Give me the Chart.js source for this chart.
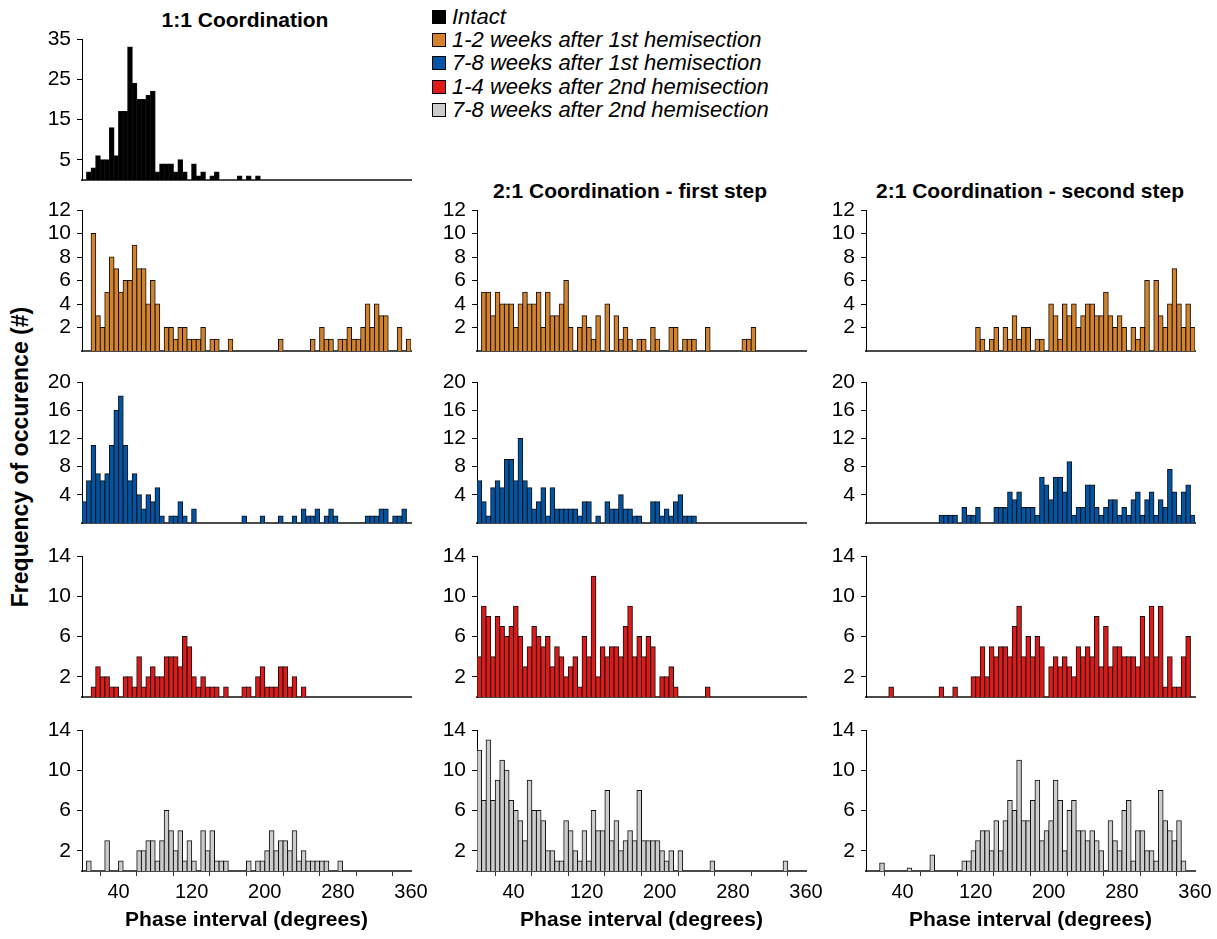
<!DOCTYPE html>
<html><head><meta charset="utf-8">
<script src="https://cdn.jsdelivr.net/npm/chart.js@4.4.1/dist/chart.umd.min.js"></script>
<style>
html,body{margin:0;padding:0;background:#fff;width:1217px;height:939px;overflow:hidden;position:relative;font-family:"Liberation Sans",Arial,sans-serif;color:#000}
canvas{position:absolute}
.t{position:absolute;font-weight:bold;font-size:21px;white-space:nowrap;transform:translate(-50%,-50%)}
#legend{position:absolute;left:432px;top:5px}
.li{display:flex;align-items:center;height:23.3px;font-style:italic;font-size:22px;white-space:nowrap}
.sw{width:14px;height:14px;border:1px solid #000;margin-right:6px;box-sizing:border-box}
#ytitle{position:absolute;left:20px;top:457px;transform:translate(-50%,-50%) rotate(-90deg);font-weight:bold;font-size:23px;white-space:nowrap}
</style></head><body>
<div class="t" style="left:245px;top:20px">1:1 Coordination</div>
<div class="t" style="left:630px;top:191px">2:1 Coordination - first step</div>
<div class="t" style="left:1030px;top:191px">2:1 Coordination - second step</div>
<div id="ytitle">Frequency of occurence (#)</div>
<div id="legend"></div>
<script>
// ---- categories (5-degree bins, centres) ----
const binCenters = [2.5,7.5,12.5,17.5,22.5,27.5,32.5,37.5,42.5,47.5,52.5,57.5,62.5,67.5,72.5,77.5,82.5,87.5,92.5,97.5,
102.5,107.5,112.5,117.5,122.5,127.5,132.5,137.5,142.5,147.5,152.5,157.5,162.5,167.5,172.5,177.5,182.5,187.5,192.5,197.5,
202.5,207.5,212.5,217.5,222.5,227.5,232.5,237.5,242.5,247.5,252.5,257.5,262.5,267.5,272.5,277.5,282.5,287.5,292.5,297.5,
302.5,307.5,312.5,317.5,322.5,327.5,332.5,337.5,342.5,347.5,352.5,357.5];
const xTickValues = [0,40,80,120,160,200,240,280,320,360];
const xLabelValues = [40,120,200,280,360];
const yTicksIntact = [5,15,25,35];
const yTicksRow2 = [2,4,6,8,10,12];
const yTicksRow3 = [4,8,12,16,20];
const yTicksRow45 = [2,6,10,14];

const seriesNames = ['Intact','1-2 weeks after 1st hemisection','7-8 weeks after 1st hemisection','1-4 weeks after 2nd hemisection','7-8 weeks after 2nd hemisection'];
const seriesColors = ['#000000','#D4832C','#0055A4','#DE1A1A','#CCCCCC'];

// ---- 1:1 coordination ----
const intact = [0,2,3,6,5,5,13,6,17,17, 33,24,20,20,21,22,2,4,4,4, 2,5,2,0,4,1,2,0,1,2, 0,0,0,0,1,0,1,0,1,0,
0,0,0,0,0,0,0,0,0,0, 0,0,0,0,0,0,0,0,0,0, 0,0,0,0,0,0,0,0,0,0, 0,0];
const orange11 = [0,0,10,3,2,5,8,7,5,6, 6,9,7,7,4,6,4,0,2,2, 1,2,2,1,1,1,2,0,1,1, 0,0,1,0,0,0,0,0,0,0,
0,0,0,1,0,0,0,0,0,0, 1,0,2,1,1,0,1,1,2,1, 1,2,4,2,4,3,3,0,0,2, 0,1];
const blue11 = [3,6,11,7,6,7,11,16,18,11, 6,7,4,2,4,3,5,1,0,1, 1,3,1,0,2,0,0,0,0,0, 0,0,0,0,0,1,0,0,0,1,
0,0,0,1,0,0,1,0,2,1, 1,2,0,1,2,1,0,0,0,0, 0,0,1,1,1,2,2,0,1,1, 2,0];
const red11 = [0,0,1,3,2,2,1,1,0,2, 2,1,4,1,2,3,2,2,4,4, 4,3,6,5,2,1,2,1,1,1, 0,1,0,0,0,1,1,0,2,3,
1,1,1,3,3,1,2,0,1,0, 0,0,0,0,0,0,0,0,0,0, 0,0,0,0,0,0,0,0,0,0, 0,0];
const gray11 = [0,1,0,0,0,3,0,0,1,0, 0,0,2,2,3,3,1,3,6,4, 2,4,1,3,1,0,4,2,4,1, 1,1,0,0,0,0,1,0,1,1,
2,4,2,3,3,2,4,1,2,1, 1,1,1,1,0,0,1,0,0,0, 0,0,0,0,0,0,0,0,0,0, 0,0];
// ---- 2:1 coordination, first step ----
const orangeFirst = [0,5,5,3,5,4,4,4,2,4, 5,4,4,5,2,5,3,3,4,6, 2,0,2,3,2,1,3,0,4,0, 3,1,2,1,0,1,1,0,2,1,
0,0,2,2,0,1,1,1,0,0, 2,0,0,0,0,0,0,0,1,1, 2,0,0,0,0,0,0,0,0,0, 0,0];
const blueFirst = [6,3,1,5,6,5,9,9,6,12, 6,5,2,3,5,1,5,2,2,2, 2,2,1,3,3,0,1,0,3,2, 2,4,2,2,1,1,0,0,3,3,
1,2,1,3,4,1,1,1,0,0, 0,0,0,0,0,0,0,0,0,0, 0,0,0,0,0,0,0,0,0,0, 0,0];
const redFirst = [4,9,8,4,8,7,6,7,9,6, 3,5,7,6,5,6,3,5,4,2, 3,4,1,6,4,12,2,5,4,5, 5,4,7,9,4,6,4,6,5,0,
2,2,3,1,0,0,0,0,0,0, 1,0,0,0,0,0,0,0,0,0, 0,0,0,0,0,0,0,0,0,0, 0,0];
const grayFirst = [12,7,13,7,9,11,10,7,6,5, 3,9,6,6,5,2,2,1,1,5, 4,2,1,4,1,6,4,4,8,3, 5,2,3,4,3,8,3,3,3,3,
2,1,2,0,2,0,0,0,0,0, 0,1,0,0,0,0,0,0,0,0, 0,0,0,0,0,0,0,1,0,0, 0,0];
// ---- 2:1 coordination, second step ----
const orangeSecond = [0,0,0,0,0,0,0,0,0,0, 0,0,0,0,0,0,0,0,0,0, 0,0,0,0,2,1,0,1,2,0, 2,1,3,1,2,2,0,1,1,0,
4,3,1,4,3,4,2,3,4,4, 3,3,5,3,2,3,2,0,2,1, 2,6,0,6,3,2,4,7,4,2, 4,2];
const blueSecond = [0,0,0,0,0,0,0,0,0,0, 0,0,0,0,0,0,1.1,1.1,1.1,1.1, 0,2.2,1.1,1.1,2.2,0,0,0,2.2,2.2,
2.2,4.4,3.3,4.4,2.2,2.2,2.2,1.1,6.5,5.4, 3.3,6.5,6.5,4.4,8.7,1.1,2.2,2.2,5.4,5.4, 2.2,1.1,2.2,3.3,3.3,1.1,2.2,1.1,3.3,4.4,
1.1,3.3,4.4,1.1,3.3,2.2,7.6,4.4,1.1,4.4, 5.4,1.1];
const redSecond = [0,0,0,0,0,1,0,0,0,0, 0,0,0,0,0,0,1,0,0,1, 0,0,0,2,2,5,2,5,4,5, 5,4,7,9,4,6,4,6,5,0,
3,4,3,4,3,2,5,4,5,4, 8,3,7,3,5,5,4,4,4,3, 8,4,9,4,9,1,4,1,1,4, 6,0];
const graySecond = [0,0,0,0.8,0,0,0,0,0,0.3, 0,0,0,0,1.6,0,0,0,0,0, 0,1,1,2,3,4,4,2,5,2, 5,7,6,11,5,5,7,9,3,4,
5,9,7,2,6,7,4,4,3,4, 3,2,0,5,3,2,6,7,1,4, 4,2,2,1,8,5,4,3,5,1, 0,0];

// ---- layout ----
const FONT = "'Liberation Sans', Arial, sans-serif";
const COL_LEFT = [82, 477, 866];
const ROW_TOP = [39, 210, 382, 556, 730];
const PLOT_W = 329, PLOT_H = 141;
const YW = 60, RP = 26, TP = 22, XH_PLAIN = 24, XH_BOTTOM = 66;

// legend
const lg = document.getElementById('legend');
seriesNames.forEach((n,i)=>{
  const d = document.createElement('div'); d.className='li';
  const s = document.createElement('span'); s.className='sw'; s.style.background = seriesColors[i];
  const t = document.createElement('span'); t.textContent = n;
  d.appendChild(s); d.appendChild(t); lg.appendChild(d);
});

function makePanel(row, col, values, colorIdx, yTicks, yMax, showX) {
  const XH = showX ? XH_BOTTOM : XH_PLAIN;
  const cw = YW + PLOT_W + RP, ch = TP + PLOT_H + XH;
  const cv = document.createElement('canvas');
  cv.width = cw; cv.height = ch;
  cv.style.width = cw + 'px'; cv.style.height = ch + 'px';
  cv.style.left = (COL_LEFT[col] - YW) + 'px';
  cv.style.top = (ROW_TOP[row] - TP) + 'px';
  document.body.appendChild(cv);
  const data = binCenters.map((x, i) => ({x: x, y: values[i] > 0 ? values[i] : null}));
  const chart = new Chart(cv, {
    type: 'bar',
    data: {datasets: [{label: seriesNames[colorIdx], data: data,
      backgroundColor: seriesColors[colorIdx], borderColor: '#111111', borderWidth: 1,
      barPercentage: 1, categoryPercentage: 1, inflateAmount: 0.5}]},
    options: {
      responsive: false, animation: false, devicePixelRatio: 1,
      layout: {padding: {left: 0, right: RP, top: TP, bottom: 0}},
      plugins: {legend: {display: false}, tooltip: {enabled: false}, title: {display: false}},
      scales: {
        x: {type: 'linear', min: 0, max: 360, offset: false,
          afterBuildTicks: s => { s.ticks = xTickValues.map(v => ({value: v})); },
          afterFit: s => { s.height = XH; },
          grid: {display: showX, drawOnChartArea: false, drawTicks: true, tickLength: 5, color: '#333333', lineWidth: 1},
          border: {display: true, color: '#4a4a4a', width: 2},
          ticks: {display: showX, autoSkip: false, maxRotation: 0, minRotation: 0, padding: 4, color: '#000',
            font: {family: FONT, size: 20}, callback: v => xLabelValues.includes(v) ? String(v) : ''},
          title: {display: showX, text: 'Phase interval (degrees)', color: '#000',
            font: {family: FONT, size: 21, weight: 'bold'}, padding: {top: 0, bottom: 4}}
        },
        y: {min: 0, max: yMax,
          afterBuildTicks: s => { s.ticks = yTicks.map(v => ({value: v})); },
          afterFit: s => { s.width = YW; },
          grid: {display: true, drawOnChartArea: false, drawTicks: true, tickLength: 5, color: '#000', lineWidth: 1},
          border: {display: true, color: '#000', width: 1},
          ticks: {padding: 6, color: '#000', font: {family: FONT, size: 21}}
        }
      }
    }
  });
  const ca = chart.chartArea;
  cv.style.left = (COL_LEFT[col] - ca.left) + 'px';
  cv.style.top = (ROW_TOP[row] - ca.top) + 'px';
  return chart;
}

makePanel(0, 0, intact, 0, yTicksIntact, 35, false);
makePanel(1, 0, orange11, 1, yTicksRow2, 12, false);
makePanel(2, 0, blue11, 2, yTicksRow3, 20, false);
makePanel(3, 0, red11, 3, yTicksRow45, 14, false);
makePanel(4, 0, gray11, 4, yTicksRow45, 14, true);
makePanel(1, 1, orangeFirst, 1, yTicksRow2, 12, false);
makePanel(2, 1, blueFirst, 2, yTicksRow3, 20, false);
makePanel(3, 1, redFirst, 3, yTicksRow45, 14, false);
makePanel(4, 1, grayFirst, 4, yTicksRow45, 14, true);
makePanel(1, 2, orangeSecond, 1, yTicksRow2, 12, false);
makePanel(2, 2, blueSecond, 2, yTicksRow3, 20, false);
makePanel(3, 2, redSecond, 3, yTicksRow45, 14, false);
makePanel(4, 2, graySecond, 4, yTicksRow45, 14, true);
</script>
</body></html>
